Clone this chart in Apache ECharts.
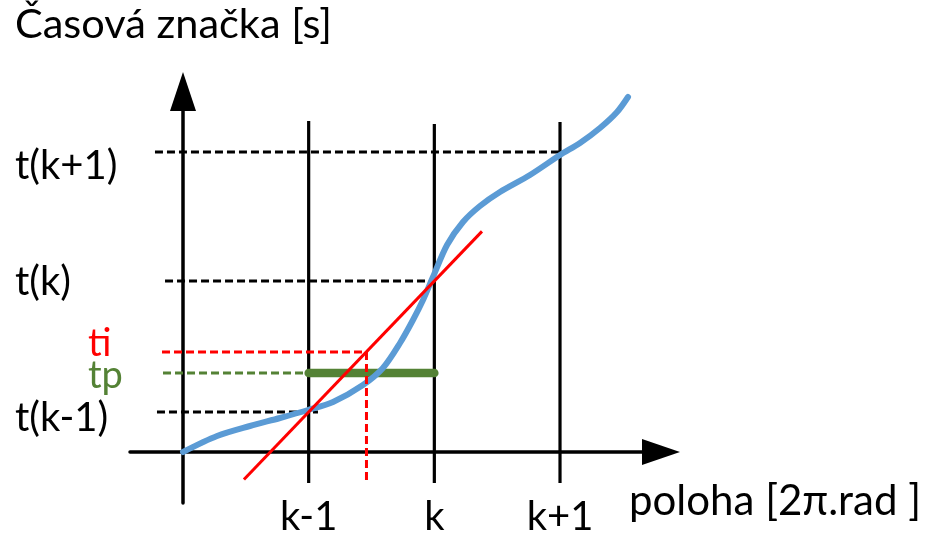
<!DOCTYPE html>
<html><head><meta charset="utf-8">
<script src="https://cdn.jsdelivr.net/npm/echarts@6/dist/echarts.min.js"></script>
<style>html,body{margin:0;padding:0;background:#fff}#c{width:930px;height:535px}</style>
</head><body><div id="c"></div>
<script>
// ---- data ----
const positionTicks = [1, 2, 3];
const positionLabels = ['k-1', 'k', 'k+1'];
const timeStamps = [40, 171, 300];
const timeLabels = ['t(k-1)', 't(k)', 't(k+1)'];
const tiPosition = 1.46;
const tiValue = 100;
const tpValue = 79;
const curveX = [0, 0.271, 0.533, 0.772, 0.995, 1.194, 1.432, 1.591, 1.727, 1.830, 1.910, 1.989, 2.101, 2.228, 2.363, 2.522, 2.761, 3.0, 3.159, 3.318, 3.454, 3.541];
const curveY = [0, 16, 26, 34, 42, 50, 67, 84, 109, 132, 152, 175, 207, 230, 246, 260, 277, 297, 309, 324, 340, 355];
const titleY = 'Časová značka [s]';
const titleX = 'poloha [2π.rad ]';

// ---- layout / style ----
const FONT = 'Lato';
const BLUE = '#5B9BD5', RED = '#FF0000', GREEN = '#548235';
const xRange = [-0.4217, 3.8036];
const yRange = [-51, 360.5];
const guideFrom = { 't(k-1)': -0.207, 't(k)': -0.143, 't(k+1)': -0.223, ti: -0.167, tp: -0.159 };
const guideTo = { 't(k-1)': 1.074 };
const verticalTop = [331, 328, 330];
const verticalBottom = -31;
const redLineX = [0.485, 2.379];
const greenEnd = 2;
// label placement (px offsets from the anchor point)
const yLabelStyle = {
  't(k-1)': { color: '#000', dx: -168, dy: 6, size: 40 },
  't(k)': { color: '#000', dx: -168, dy: 1, size: 40 },
  't(k+1)': { color: '#000', dx: -168, dy: 14, size: 40 },
  ti: { color: RED, dx: -95, dy: -8, size: 38 },
  tp: { color: GREEN, dx: -95, dy: 3, size: 38 }
};
const xLabelSize = 40, xLabelDy = 65;

const slope = (timeStamps[1] - timeStamps[0]) / (positionTicks[1] - positionTicks[0]);
const interp = x => timeStamps[0] + (x - positionTicks[0]) * slope;

function seg(name, pts, style, z, extra) {
  return Object.assign({
    name, type: 'line', data: pts, showSymbol: false, symbol: 'none', silent: true,
    clip: false, z, lineStyle: style, animation: false
  }, extra || {});
}
const dash = [8, 4];
const series = [];
positionTicks.forEach((p, i) => {
  series.push(seg('v' + i, [[p, verticalBottom], [p, verticalTop[i]]], { color: '#000', width: 3.2 }, 2));
});
timeStamps.forEach((t, i) => {
  const lab = timeLabels[i];
  const to = guideTo[lab] !== undefined ? guideTo[lab] : positionTicks[i];
  series.push(seg('h' + i, [[guideFrom[lab], t], [to, t]], { color: '#000', width: 3, type: dash }, 3));
});
series.push(seg('tpGuide', [[guideFrom.tp, tpValue], [positionTicks[0], tpValue]], { color: GREEN, width: 3, type: dash }, 3));
series.push(seg('tpBar', [[positionTicks[0], tpValue], [greenEnd, tpValue]], { color: GREEN, width: 8.5, cap: 'round' }, 4));
series.push(seg('curve', curveX.map((x, i) => [x, curveY[i]]), { color: BLUE, width: 6, cap: 'round', join: 'round' }, 5, { smooth: 0.3 }));
series.push(seg('interp', redLineX.map(x => [x, interp(x)]), { color: RED, width: 3 }, 6));
series.push(seg('tiH', [[guideFrom.ti, tiValue], [tiPosition, tiValue]], { color: RED, width: 3, type: dash }, 6));
series.push(seg('tiV', [[tiPosition, tiValue], [tiPosition, verticalBottom + 2]], { color: RED, width: 3, type: dash }, 6));

// text labels, anchored on the axes through the library's scales
const yLabelNames = [...timeLabels, 'ti', 'tp'];
const yLabelValues = [...timeStamps, tiValue, tpValue];
const hidden = { color: 'rgba(0,0,0,0)', opacity: 1 };
series.push({
  name: 'yLabels', type: 'scatter', clip: false, silent: true, symbolSize: 2, itemStyle: hidden, z: 10,
  data: yLabelNames.map((n, i) => ({
    value: [0, yLabelValues[i]], name: n,
    label: { show: true, position: 'inside', formatter: n, align: 'left', verticalAlign: 'middle',
      offset: [yLabelStyle[n].dx, yLabelStyle[n].dy], color: yLabelStyle[n].color,
      fontFamily: FONT, fontSize: yLabelStyle[n].size, textBorderWidth: 0 }
  }))
});
series.push({
  name: 'xLabels', type: 'scatter', clip: false, silent: true, symbolSize: 2, itemStyle: hidden, z: 10,
  data: positionTicks.map((p, i) => ({
    value: [p, 0], name: positionLabels[i],
    label: { show: true, position: 'inside', formatter: positionLabels[i], align: 'center', verticalAlign: 'middle',
      offset: [0, xLabelDy], color: '#000', fontFamily: FONT, fontSize: xLabelSize, textBorderWidth: 0 }
  }))
});

const option = {
  animation: false,
  backgroundColor: '#fff',
  title: [
    { text: titleY, left: 10, top: -1, textStyle: { fontFamily: FONT, fontSize: 41.5, fontWeight: 'normal', color: '#000' } },
    { text: titleX, left: 624, top: 475, textStyle: { fontFamily: FONT, fontSize: 42, fontWeight: 'normal', color: '#000' } }
  ],
  grid: { left: 130, right: 269, top: 91.5, bottom: 32, containLabel: false, outerBoundsMode: 'none' },
  xAxis: {
    type: 'value', min: xRange[0], max: xRange[1],
    axisLine: { show: true, onZero: true, symbol: ['none', 'triangle'], symbolSize: [26, 38], lineStyle: { color: '#000', width: 3.5 } },
    axisTick: { show: false }, splitLine: { show: false }, axisLabel: { show: false }
  },
  yAxis: {
    type: 'value', min: yRange[0], max: yRange[1],
    axisLine: { show: true, onZero: true, symbol: ['none', 'triangle'], symbolSize: [26, 39], lineStyle: { color: '#000', width: 3.5 } },
    axisTick: { show: false }, splitLine: { show: false }, axisLabel: { show: false }
  },
  series
};
const chart = echarts.init(document.getElementById('c'), null, { renderer: 'canvas' });
chart.setOption(option);
</script></body></html>
